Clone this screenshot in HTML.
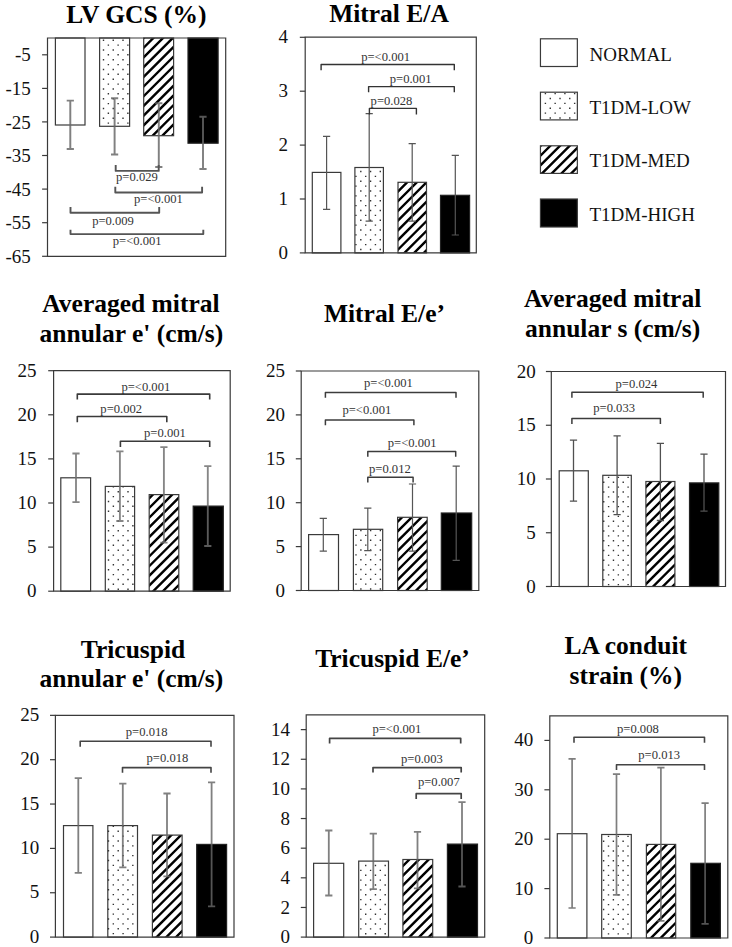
<!DOCTYPE html>
<html><head><meta charset="utf-8"><style>
html,body{margin:0;padding:0;background:#fff;}
svg{display:block;}
text{font-family:"Liberation Serif",serif;}
</style></head><body>
<svg width="732" height="947" viewBox="0 0 732 947">
<defs><clipPath id="c1"><rect x="143.7" y="38" width="29.9" height="97.7"/></clipPath><clipPath id="c2"><rect x="398" y="182.3" width="28.5" height="70.6"/></clipPath><clipPath id="c3"><rect x="149.2" y="494.6" width="29.6" height="96.6"/></clipPath><clipPath id="c4"><rect x="397.6" y="517.3" width="29.6" height="73.2"/></clipPath><clipPath id="c5"><rect x="645.9" y="481.5" width="29" height="105"/></clipPath><clipPath id="c6"><rect x="152.4" y="835.1" width="29.7" height="102"/></clipPath><clipPath id="c7"><rect x="402.9" y="859.5" width="29.8" height="77.6"/></clipPath><clipPath id="c8"><rect x="646.4" y="844.4" width="29.3" height="93.6"/></clipPath><clipPath id="c9"><rect x="540.45" y="145.8" width="36.9" height="27.6"/></clipPath></defs>
<rect width="732" height="947" fill="#fff"/>
<rect x="55.4" y="38" width="29.6" height="87" fill="#fff" stroke="none" stroke-width="0"/>
<rect x="55.4" y="38" width="29.6" height="87" fill="none" stroke="#3a3a3a" stroke-width="1.2"/>
<rect x="99.6" y="38" width="30" height="88.3" fill="#fff" stroke="none" stroke-width="0"/>
<path d="M102.8 39.5h1.4v1.4h-1.4zM112.55 39.5h1.4v1.4h-1.4zM122.3 39.5h1.4v1.4h-1.4zM107.67 44.38h1.4v1.4h-1.4zM117.42 44.38h1.4v1.4h-1.4zM127.17 44.38h1.4v1.4h-1.4zM102.8 49.25h1.4v1.4h-1.4zM112.55 49.25h1.4v1.4h-1.4zM122.3 49.25h1.4v1.4h-1.4zM107.67 54.12h1.4v1.4h-1.4zM117.42 54.12h1.4v1.4h-1.4zM127.17 54.12h1.4v1.4h-1.4zM102.8 59h1.4v1.4h-1.4zM112.55 59h1.4v1.4h-1.4zM122.3 59h1.4v1.4h-1.4zM107.67 63.88h1.4v1.4h-1.4zM117.42 63.88h1.4v1.4h-1.4zM127.17 63.88h1.4v1.4h-1.4zM102.8 68.75h1.4v1.4h-1.4zM112.55 68.75h1.4v1.4h-1.4zM122.3 68.75h1.4v1.4h-1.4zM107.67 73.62h1.4v1.4h-1.4zM117.42 73.62h1.4v1.4h-1.4zM127.17 73.62h1.4v1.4h-1.4zM102.8 78.5h1.4v1.4h-1.4zM112.55 78.5h1.4v1.4h-1.4zM122.3 78.5h1.4v1.4h-1.4zM107.67 83.38h1.4v1.4h-1.4zM117.42 83.38h1.4v1.4h-1.4zM127.17 83.38h1.4v1.4h-1.4zM102.8 88.25h1.4v1.4h-1.4zM112.55 88.25h1.4v1.4h-1.4zM122.3 88.25h1.4v1.4h-1.4zM107.67 93.12h1.4v1.4h-1.4zM117.42 93.12h1.4v1.4h-1.4zM127.17 93.12h1.4v1.4h-1.4zM102.8 98h1.4v1.4h-1.4zM112.55 98h1.4v1.4h-1.4zM122.3 98h1.4v1.4h-1.4zM107.67 102.88h1.4v1.4h-1.4zM117.42 102.88h1.4v1.4h-1.4zM127.17 102.88h1.4v1.4h-1.4zM102.8 107.75h1.4v1.4h-1.4zM112.55 107.75h1.4v1.4h-1.4zM122.3 107.75h1.4v1.4h-1.4zM107.67 112.62h1.4v1.4h-1.4zM117.42 112.62h1.4v1.4h-1.4zM127.17 112.62h1.4v1.4h-1.4zM102.8 117.5h1.4v1.4h-1.4zM112.55 117.5h1.4v1.4h-1.4zM122.3 117.5h1.4v1.4h-1.4zM107.67 122.38h1.4v1.4h-1.4zM117.42 122.38h1.4v1.4h-1.4zM127.17 122.38h1.4v1.4h-1.4z" fill="#333"/>
<rect x="99.6" y="38" width="30" height="88.3" fill="none" stroke="#3a3a3a" stroke-width="1.2"/>
<rect x="143.7" y="38" width="29.9" height="97.7" fill="#fff" stroke="none" stroke-width="0"/>
<path d="M145.95 26L24.25 147.7M155.65 26L33.95 147.7M165.35 26L43.65 147.7M175.05 26L53.35 147.7M184.75 26L63.05 147.7M194.45 26L72.75 147.7M204.15 26L82.45 147.7M213.85 26L92.15 147.7M223.55 26L101.85 147.7M233.25 26L111.55 147.7M242.95 26L121.25 147.7M252.65 26L130.95 147.7M262.35 26L140.65 147.7M272.05 26L150.35 147.7M281.75 26L160.05 147.7M291.45 26L169.75 147.7" stroke="#000" stroke-width="2.4" fill="none" clip-path="url(#c1)"/>
<rect x="143.7" y="38" width="29.9" height="97.7" fill="none" stroke="#3a3a3a" stroke-width="1.2"/>
<rect x="188" y="38" width="30.1" height="105.2" fill="#000" stroke="none" stroke-width="0"/>
<rect x="188" y="38" width="30.1" height="105.2" fill="none" stroke="#222" stroke-width="1.2"/>
<path d="M70.3 100.6V148.9M66.7 100.6H73.9M66.7 148.9H73.9" fill="none" stroke="#666" stroke-opacity="0.83" stroke-width="1.95"/>
<path d="M114.6 98.3V154.4M111 98.3H118.2M111 154.4H118.2" fill="none" stroke="#666" stroke-opacity="0.83" stroke-width="1.95"/>
<path d="M158.8 103.3V167M155.2 103.3H162.4M155.2 167H162.4" fill="none" stroke="#666" stroke-opacity="0.83" stroke-width="1.95"/>
<path d="M203 116.7V169M199.4 116.7H206.6M199.4 169H206.6" fill="none" stroke="#666" stroke-opacity="0.83" stroke-width="1.95"/>
<path d="M115.7 165.1L115.7 170.9L158.7 170.9L158.7 165.1" fill="none" stroke="#555" stroke-width="1.9" stroke-linejoin="round"/>
<text x="136.93" y="180.9" font-size="12.6" text-anchor="middle" fill="#333">p=0.029</text>
<path d="M115.3 186.7L115.3 192.5L202.1 192.5L202.1 186.7" fill="none" stroke="#555" stroke-width="1.9" stroke-linejoin="round"/>
<text x="158.43" y="203" font-size="12.6" text-anchor="middle" fill="#333">p=&lt;0.001</text>
<path d="M70.5 207.1L70.5 212.7L159.2 212.7L159.2 207.1" fill="none" stroke="#555" stroke-width="1.9" stroke-linejoin="round"/>
<text x="113.03" y="224.8" font-size="12.6" text-anchor="middle" fill="#333">p=0.009</text>
<path d="M70.5 229.7L70.5 234.1L203.3 234.1L203.3 229.7" fill="none" stroke="#555" stroke-width="1.9" stroke-linejoin="round"/>
<text x="137.23" y="245.2" font-size="12.6" text-anchor="middle" fill="#333">p=&lt;0.001</text>
<path d="M47.5 38L225.7 38L225.7 256.3L47.5 256.3Z" fill="none" stroke="#3a3a3a" stroke-width="1.2"/>
<line x1="42.1" y1="54.8" x2="47.5" y2="54.8" stroke="#3a3a3a" stroke-width="1.2"/>
<text x="30.75" y="61.45" font-size="19.0" text-anchor="end" fill="#111">-5</text>
<line x1="42.1" y1="88.4" x2="47.5" y2="88.4" stroke="#3a3a3a" stroke-width="1.2"/>
<text x="30.75" y="95.05" font-size="19.0" text-anchor="end" fill="#111">-15</text>
<line x1="42.1" y1="121.9" x2="47.5" y2="121.9" stroke="#3a3a3a" stroke-width="1.2"/>
<text x="30.75" y="128.55" font-size="19.0" text-anchor="end" fill="#111">-25</text>
<line x1="42.1" y1="155.5" x2="47.5" y2="155.5" stroke="#3a3a3a" stroke-width="1.2"/>
<text x="30.75" y="162.15" font-size="19.0" text-anchor="end" fill="#111">-35</text>
<line x1="42.1" y1="189.1" x2="47.5" y2="189.1" stroke="#3a3a3a" stroke-width="1.2"/>
<text x="30.75" y="195.75" font-size="19.0" text-anchor="end" fill="#111">-45</text>
<line x1="42.1" y1="222.7" x2="47.5" y2="222.7" stroke="#3a3a3a" stroke-width="1.2"/>
<text x="30.75" y="229.35" font-size="19.0" text-anchor="end" fill="#111">-55</text>
<line x1="42.1" y1="256.3" x2="47.5" y2="256.3" stroke="#3a3a3a" stroke-width="1.2"/>
<text x="30.75" y="262.95" font-size="19.0" text-anchor="end" fill="#111">-65</text>
<text x="136.42" y="23" font-size="25.5" font-weight="bold" text-anchor="middle" fill="#000">LV GCS (%)</text>
<rect x="312.3" y="172.4" width="28.6" height="80.5" fill="#fff" stroke="none" stroke-width="0"/>
<rect x="312.3" y="172.4" width="28.6" height="80.5" fill="none" stroke="#3a3a3a" stroke-width="1.2"/>
<rect x="354.9" y="167.5" width="28.5" height="85.4" fill="#fff" stroke="none" stroke-width="0"/>
<path d="M360.1 170.8h1.4v1.4h-1.4zM369.85 170.8h1.4v1.4h-1.4zM379.6 170.8h1.4v1.4h-1.4zM355.23 175.68h1.4v1.4h-1.4zM364.98 175.68h1.4v1.4h-1.4zM374.73 175.68h1.4v1.4h-1.4zM360.1 180.55h1.4v1.4h-1.4zM369.85 180.55h1.4v1.4h-1.4zM379.6 180.55h1.4v1.4h-1.4zM355.23 185.43h1.4v1.4h-1.4zM364.98 185.43h1.4v1.4h-1.4zM374.73 185.43h1.4v1.4h-1.4zM360.1 190.3h1.4v1.4h-1.4zM369.85 190.3h1.4v1.4h-1.4zM379.6 190.3h1.4v1.4h-1.4zM355.23 195.18h1.4v1.4h-1.4zM364.98 195.18h1.4v1.4h-1.4zM374.73 195.18h1.4v1.4h-1.4zM360.1 200.05h1.4v1.4h-1.4zM369.85 200.05h1.4v1.4h-1.4zM379.6 200.05h1.4v1.4h-1.4zM355.23 204.93h1.4v1.4h-1.4zM364.98 204.93h1.4v1.4h-1.4zM374.73 204.93h1.4v1.4h-1.4zM360.1 209.8h1.4v1.4h-1.4zM369.85 209.8h1.4v1.4h-1.4zM379.6 209.8h1.4v1.4h-1.4zM355.23 214.68h1.4v1.4h-1.4zM364.98 214.68h1.4v1.4h-1.4zM374.73 214.68h1.4v1.4h-1.4zM360.1 219.55h1.4v1.4h-1.4zM369.85 219.55h1.4v1.4h-1.4zM379.6 219.55h1.4v1.4h-1.4zM355.23 224.43h1.4v1.4h-1.4zM364.98 224.43h1.4v1.4h-1.4zM374.73 224.43h1.4v1.4h-1.4zM360.1 229.3h1.4v1.4h-1.4zM369.85 229.3h1.4v1.4h-1.4zM379.6 229.3h1.4v1.4h-1.4zM355.23 234.18h1.4v1.4h-1.4zM364.98 234.18h1.4v1.4h-1.4zM374.73 234.18h1.4v1.4h-1.4zM360.1 239.05h1.4v1.4h-1.4zM369.85 239.05h1.4v1.4h-1.4zM379.6 239.05h1.4v1.4h-1.4zM355.23 243.93h1.4v1.4h-1.4zM364.98 243.93h1.4v1.4h-1.4zM374.73 243.93h1.4v1.4h-1.4zM360.1 248.8h1.4v1.4h-1.4zM369.85 248.8h1.4v1.4h-1.4zM379.6 248.8h1.4v1.4h-1.4z" fill="#333"/>
<rect x="354.9" y="167.5" width="28.5" height="85.4" fill="none" stroke="#3a3a3a" stroke-width="1.2"/>
<rect x="398" y="182.3" width="28.5" height="70.6" fill="#fff" stroke="none" stroke-width="0"/>
<path d="M399.75 170.3L305.15 264.9M409.45 170.3L314.85 264.9M419.15 170.3L324.55 264.9M428.85 170.3L334.25 264.9M438.55 170.3L343.95 264.9M448.25 170.3L353.65 264.9M457.95 170.3L363.35 264.9M467.65 170.3L373.05 264.9M477.35 170.3L382.75 264.9M487.05 170.3L392.45 264.9M496.75 170.3L402.15 264.9M506.45 170.3L411.85 264.9M516.15 170.3L421.55 264.9" stroke="#000" stroke-width="2.4" fill="none" clip-path="url(#c2)"/>
<rect x="398" y="182.3" width="28.5" height="70.6" fill="none" stroke="#3a3a3a" stroke-width="1.2"/>
<rect x="440.5" y="195.3" width="29.1" height="57.6" fill="#000" stroke="none" stroke-width="0"/>
<rect x="440.5" y="195.3" width="29.1" height="57.6" fill="none" stroke="#222" stroke-width="1.2"/>
<path d="M326.6 136.4V209.3M323 136.4H330.2M323 209.3H330.2" fill="none" stroke="#555" stroke-width="1.2"/>
<path d="M369.2 113.6V221.2M365.6 113.6H372.8M365.6 221.2H372.8" fill="none" stroke="#555" stroke-width="1.2"/>
<path d="M412.2 143.6V221.2M408.6 143.6H415.8M408.6 221.2H415.8" fill="none" stroke="#555" stroke-width="1.2"/>
<path d="M455.3 155.3V235M451.7 155.3H458.9M451.7 235H458.9" fill="none" stroke="#555" stroke-width="1.2"/>
<path d="M321.1 70.2L321.1 64.5L454.3 64.5L454.3 70.2" fill="none" stroke="#333" stroke-width="1.4" stroke-linejoin="round"/>
<text x="385.63" y="61.1" font-size="12.6" text-anchor="middle" fill="#333">p=&lt;0.001</text>
<path d="M368.6 92.3L368.6 86.6L454.3 86.6L454.3 92.3" fill="none" stroke="#333" stroke-width="1.4" stroke-linejoin="round"/>
<text x="410.63" y="82.7" font-size="12.6" text-anchor="middle" fill="#333">p=0.001</text>
<path d="M369.4 114.4L369.4 108.4L416.4 108.4L416.4 114.4" fill="none" stroke="#333" stroke-width="1.4" stroke-linejoin="round"/>
<text x="391.48" y="104.5" font-size="12.6" text-anchor="middle" fill="#333">p=0.028</text>
<path d="M305.2 37.2L476.3 37.2L476.3 252.9L305.2 252.9Z" fill="none" stroke="#3a3a3a" stroke-width="1.2"/>
<line x1="299.8" y1="252.9" x2="305.2" y2="252.9" stroke="#3a3a3a" stroke-width="1.2"/>
<text x="287.9" y="258.95" font-size="19.0" text-anchor="end" fill="#111">0</text>
<line x1="299.8" y1="199" x2="305.2" y2="199" stroke="#3a3a3a" stroke-width="1.2"/>
<text x="287.9" y="205.05" font-size="19.0" text-anchor="end" fill="#111">1</text>
<line x1="299.8" y1="145.1" x2="305.2" y2="145.1" stroke="#3a3a3a" stroke-width="1.2"/>
<text x="287.9" y="151.15" font-size="19.0" text-anchor="end" fill="#111">2</text>
<line x1="299.8" y1="91.2" x2="305.2" y2="91.2" stroke="#3a3a3a" stroke-width="1.2"/>
<text x="287.9" y="97.25" font-size="19.0" text-anchor="end" fill="#111">3</text>
<line x1="299.8" y1="37.3" x2="305.2" y2="37.3" stroke="#3a3a3a" stroke-width="1.2"/>
<text x="287.9" y="43.35" font-size="19.0" text-anchor="end" fill="#111">4</text>
<text x="388.98" y="21.9" font-size="25.5" font-weight="bold" text-anchor="middle" fill="#000">Mitral E/A</text>
<rect x="60.8" y="477.8" width="29.8" height="113.4" fill="#fff" stroke="none" stroke-width="0"/>
<rect x="60.8" y="477.8" width="29.8" height="113.4" fill="none" stroke="#3a3a3a" stroke-width="1.2"/>
<rect x="105.3" y="486.4" width="29.3" height="104.8" fill="#fff" stroke="none" stroke-width="0"/>
<path d="M112.67 486.12h1.4v1.4h-1.4zM122.42 486.12h1.4v1.4h-1.4zM132.18 486.12h1.4v1.4h-1.4zM107.8 491h1.4v1.4h-1.4zM117.55 491h1.4v1.4h-1.4zM127.3 491h1.4v1.4h-1.4zM112.67 495.88h1.4v1.4h-1.4zM122.42 495.88h1.4v1.4h-1.4zM132.18 495.88h1.4v1.4h-1.4zM107.8 500.75h1.4v1.4h-1.4zM117.55 500.75h1.4v1.4h-1.4zM127.3 500.75h1.4v1.4h-1.4zM112.67 505.62h1.4v1.4h-1.4zM122.42 505.62h1.4v1.4h-1.4zM132.18 505.62h1.4v1.4h-1.4zM107.8 510.5h1.4v1.4h-1.4zM117.55 510.5h1.4v1.4h-1.4zM127.3 510.5h1.4v1.4h-1.4zM112.67 515.38h1.4v1.4h-1.4zM122.42 515.38h1.4v1.4h-1.4zM132.18 515.38h1.4v1.4h-1.4zM107.8 520.25h1.4v1.4h-1.4zM117.55 520.25h1.4v1.4h-1.4zM127.3 520.25h1.4v1.4h-1.4zM112.67 525.12h1.4v1.4h-1.4zM122.42 525.12h1.4v1.4h-1.4zM132.18 525.12h1.4v1.4h-1.4zM107.8 530h1.4v1.4h-1.4zM117.55 530h1.4v1.4h-1.4zM127.3 530h1.4v1.4h-1.4zM112.67 534.88h1.4v1.4h-1.4zM122.42 534.88h1.4v1.4h-1.4zM132.18 534.88h1.4v1.4h-1.4zM107.8 539.75h1.4v1.4h-1.4zM117.55 539.75h1.4v1.4h-1.4zM127.3 539.75h1.4v1.4h-1.4zM112.67 544.62h1.4v1.4h-1.4zM122.42 544.62h1.4v1.4h-1.4zM132.18 544.62h1.4v1.4h-1.4zM107.8 549.5h1.4v1.4h-1.4zM117.55 549.5h1.4v1.4h-1.4zM127.3 549.5h1.4v1.4h-1.4zM112.67 554.38h1.4v1.4h-1.4zM122.42 554.38h1.4v1.4h-1.4zM132.18 554.38h1.4v1.4h-1.4zM107.8 559.25h1.4v1.4h-1.4zM117.55 559.25h1.4v1.4h-1.4zM127.3 559.25h1.4v1.4h-1.4zM112.67 564.12h1.4v1.4h-1.4zM122.42 564.12h1.4v1.4h-1.4zM132.18 564.12h1.4v1.4h-1.4zM107.8 569h1.4v1.4h-1.4zM117.55 569h1.4v1.4h-1.4zM127.3 569h1.4v1.4h-1.4zM112.67 573.88h1.4v1.4h-1.4zM122.42 573.88h1.4v1.4h-1.4zM132.18 573.88h1.4v1.4h-1.4zM107.8 578.75h1.4v1.4h-1.4zM117.55 578.75h1.4v1.4h-1.4zM127.3 578.75h1.4v1.4h-1.4zM112.67 583.62h1.4v1.4h-1.4zM122.42 583.62h1.4v1.4h-1.4zM132.18 583.62h1.4v1.4h-1.4zM107.8 588.5h1.4v1.4h-1.4zM117.55 588.5h1.4v1.4h-1.4zM127.3 588.5h1.4v1.4h-1.4z" fill="#333"/>
<rect x="105.3" y="486.4" width="29.3" height="104.8" fill="none" stroke="#3a3a3a" stroke-width="1.2"/>
<rect x="149.2" y="494.6" width="29.6" height="96.6" fill="#fff" stroke="none" stroke-width="0"/>
<path d="M155.15 482.6L34.55 603.2M164.85 482.6L44.25 603.2M174.55 482.6L53.95 603.2M184.25 482.6L63.65 603.2M193.95 482.6L73.35 603.2M203.65 482.6L83.05 603.2M213.35 482.6L92.75 603.2M223.05 482.6L102.45 603.2M232.75 482.6L112.15 603.2M242.45 482.6L121.85 603.2M252.15 482.6L131.55 603.2M261.85 482.6L141.25 603.2M271.55 482.6L150.95 603.2M281.25 482.6L160.65 603.2M290.95 482.6L170.35 603.2M300.65 482.6L180.05 603.2" stroke="#000" stroke-width="2.4" fill="none" clip-path="url(#c3)"/>
<rect x="149.2" y="494.6" width="29.6" height="96.6" fill="none" stroke="#3a3a3a" stroke-width="1.2"/>
<rect x="193.2" y="506.1" width="30.1" height="85.1" fill="#000" stroke="none" stroke-width="0"/>
<rect x="193.2" y="506.1" width="30.1" height="85.1" fill="none" stroke="#222" stroke-width="1.2"/>
<path d="M76 453.5V502.1M72.4 453.5H79.6M72.4 502.1H79.6" fill="none" stroke="#6e6e6e" stroke-opacity="0.83" stroke-width="1.85"/>
<path d="M119.9 451.4V521M116.3 451.4H123.5M116.3 521H123.5" fill="none" stroke="#6e6e6e" stroke-opacity="0.83" stroke-width="1.85"/>
<path d="M163.9 447.1V542.6M160.3 447.1H167.5M160.3 542.6H167.5" fill="none" stroke="#6e6e6e" stroke-opacity="0.83" stroke-width="1.85"/>
<path d="M207.8 466.1V546M204.2 466.1H211.4M204.2 546H211.4" fill="none" stroke="#6e6e6e" stroke-opacity="0.83" stroke-width="1.85"/>
<path d="M77.3 399.4L77.3 394.1L209.7 394.1L209.7 399.4" fill="none" stroke="#3a3a3a" stroke-width="1.6" stroke-linejoin="round"/>
<text x="145.83" y="390.6" font-size="12.6" text-anchor="middle" fill="#333">p=&lt;0.001</text>
<path d="M77.3 422.3L77.3 416.5L166.8 416.5L166.8 422.3" fill="none" stroke="#3a3a3a" stroke-width="1.6" stroke-linejoin="round"/>
<text x="121.23" y="412.7" font-size="12.6" text-anchor="middle" fill="#333">p=0.002</text>
<path d="M120.4 447.1L120.4 441.2L209.7 441.2L209.7 447.1" fill="none" stroke="#3a3a3a" stroke-width="1.6" stroke-linejoin="round"/>
<text x="164.93" y="437.3" font-size="12.6" text-anchor="middle" fill="#333">p=0.001</text>
<path d="M53.6 370.7L230.2 370.7L230.2 591.2L53.6 591.2Z" fill="none" stroke="#3a3a3a" stroke-width="1.2"/>
<line x1="48.2" y1="591.2" x2="53.6" y2="591.2" stroke="#3a3a3a" stroke-width="1.2"/>
<text x="36.6" y="597.25" font-size="19.0" text-anchor="end" fill="#111">0</text>
<line x1="48.2" y1="547.1" x2="53.6" y2="547.1" stroke="#3a3a3a" stroke-width="1.2"/>
<text x="36.6" y="553.15" font-size="19.0" text-anchor="end" fill="#111">5</text>
<line x1="48.2" y1="503" x2="53.6" y2="503" stroke="#3a3a3a" stroke-width="1.2"/>
<text x="36.6" y="509.05" font-size="19.0" text-anchor="end" fill="#111">10</text>
<line x1="48.2" y1="458.9" x2="53.6" y2="458.9" stroke="#3a3a3a" stroke-width="1.2"/>
<text x="36.6" y="464.95" font-size="19.0" text-anchor="end" fill="#111">15</text>
<line x1="48.2" y1="414.8" x2="53.6" y2="414.8" stroke="#3a3a3a" stroke-width="1.2"/>
<text x="36.6" y="420.85" font-size="19.0" text-anchor="end" fill="#111">20</text>
<line x1="48.2" y1="370.7" x2="53.6" y2="370.7" stroke="#3a3a3a" stroke-width="1.2"/>
<text x="36.6" y="376.75" font-size="19.0" text-anchor="end" fill="#111">25</text>
<text x="130.95" y="312.3" font-size="25.5" font-weight="bold" text-anchor="middle" fill="#000">Averaged mitral</text>
<text x="131.37" y="342.4" font-size="25.5" font-weight="bold" text-anchor="middle" fill="#000">annular e' (cm/s)</text>
<rect x="308.6" y="534.6" width="29.9" height="55.9" fill="#fff" stroke="none" stroke-width="0"/>
<rect x="308.6" y="534.6" width="29.9" height="55.9" fill="none" stroke="#3a3a3a" stroke-width="1.2"/>
<rect x="353.4" y="529.3" width="29.3" height="61.2" fill="#fff" stroke="none" stroke-width="0"/>
<path d="M360.18 529.82h1.4v1.4h-1.4zM369.93 529.82h1.4v1.4h-1.4zM379.68 529.82h1.4v1.4h-1.4zM355.3 534.7h1.4v1.4h-1.4zM365.05 534.7h1.4v1.4h-1.4zM374.8 534.7h1.4v1.4h-1.4zM360.18 539.57h1.4v1.4h-1.4zM369.93 539.57h1.4v1.4h-1.4zM379.68 539.57h1.4v1.4h-1.4zM355.3 544.45h1.4v1.4h-1.4zM365.05 544.45h1.4v1.4h-1.4zM374.8 544.45h1.4v1.4h-1.4zM360.18 549.32h1.4v1.4h-1.4zM369.93 549.32h1.4v1.4h-1.4zM379.68 549.32h1.4v1.4h-1.4zM355.3 554.2h1.4v1.4h-1.4zM365.05 554.2h1.4v1.4h-1.4zM374.8 554.2h1.4v1.4h-1.4zM360.18 559.07h1.4v1.4h-1.4zM369.93 559.07h1.4v1.4h-1.4zM379.68 559.07h1.4v1.4h-1.4zM355.3 563.95h1.4v1.4h-1.4zM365.05 563.95h1.4v1.4h-1.4zM374.8 563.95h1.4v1.4h-1.4zM360.18 568.82h1.4v1.4h-1.4zM369.93 568.82h1.4v1.4h-1.4zM379.68 568.82h1.4v1.4h-1.4zM355.3 573.7h1.4v1.4h-1.4zM365.05 573.7h1.4v1.4h-1.4zM374.8 573.7h1.4v1.4h-1.4zM360.18 578.57h1.4v1.4h-1.4zM369.93 578.57h1.4v1.4h-1.4zM379.68 578.57h1.4v1.4h-1.4zM355.3 583.45h1.4v1.4h-1.4zM365.05 583.45h1.4v1.4h-1.4zM374.8 583.45h1.4v1.4h-1.4zM360.18 588.32h1.4v1.4h-1.4zM369.93 588.32h1.4v1.4h-1.4zM379.68 588.32h1.4v1.4h-1.4z" fill="#333"/>
<rect x="353.4" y="529.3" width="29.3" height="61.2" fill="none" stroke="#3a3a3a" stroke-width="1.2"/>
<rect x="397.6" y="517.3" width="29.6" height="73.2" fill="#fff" stroke="none" stroke-width="0"/>
<path d="M404.35 505.3L307.15 602.5M414.05 505.3L316.85 602.5M423.75 505.3L326.55 602.5M433.45 505.3L336.25 602.5M443.15 505.3L345.95 602.5M452.85 505.3L355.65 602.5M462.55 505.3L365.35 602.5M472.25 505.3L375.05 602.5M481.95 505.3L384.75 602.5M491.65 505.3L394.45 602.5M501.35 505.3L404.15 602.5M511.05 505.3L413.85 602.5M520.75 505.3L423.55 602.5" stroke="#000" stroke-width="2.4" fill="none" clip-path="url(#c4)"/>
<rect x="397.6" y="517.3" width="29.6" height="73.2" fill="none" stroke="#3a3a3a" stroke-width="1.2"/>
<rect x="441.3" y="513" width="30.4" height="77.5" fill="#000" stroke="none" stroke-width="0"/>
<rect x="441.3" y="513" width="30.4" height="77.5" fill="none" stroke="#222" stroke-width="1.2"/>
<path d="M323.3 518.3V551.1M319.7 518.3H326.9M319.7 551.1H326.9" fill="none" stroke="#555" stroke-width="1.2"/>
<path d="M367.8 508.2V550.6M364.2 508.2H371.4M364.2 550.6H371.4" fill="none" stroke="#555" stroke-width="1.2"/>
<path d="M412.5 484V551.1M408.9 484H416.1M408.9 551.1H416.1" fill="none" stroke="#555" stroke-width="1.2"/>
<path d="M456.2 466.2V560.4M452.6 466.2H459.8M452.6 560.4H459.8" fill="none" stroke="#555" stroke-width="1.2"/>
<path d="M325.4 397.8L325.4 392.5L456 392.5L456 397.8" fill="none" stroke="#3c3c3c" stroke-width="1.5" stroke-linejoin="round"/>
<text x="388.43" y="386.6" font-size="12.6" text-anchor="middle" fill="#333">p=&lt;0.001</text>
<path d="M325.4 425.3L325.4 419.9L413.9 419.9L413.9 425.3" fill="none" stroke="#3c3c3c" stroke-width="1.5" stroke-linejoin="round"/>
<text x="366.83" y="414.1" font-size="12.6" text-anchor="middle" fill="#333">p=&lt;0.001</text>
<path d="M367.8 456.7L367.8 451.4L455.7 451.4L455.7 456.7" fill="none" stroke="#3c3c3c" stroke-width="1.5" stroke-linejoin="round"/>
<text x="412.23" y="446.6" font-size="12.6" text-anchor="middle" fill="#333">p=&lt;0.001</text>
<path d="M367.8 482.6L367.8 477.3L413.1 477.3L413.1 482.6" fill="none" stroke="#3c3c3c" stroke-width="1.5" stroke-linejoin="round"/>
<text x="389.88" y="472.7" font-size="12.6" text-anchor="middle" fill="#333">p=0.012</text>
<path d="M301.2 371L478.8 371L478.8 590.5L301.2 590.5Z" fill="none" stroke="#3a3a3a" stroke-width="1.2"/>
<line x1="295.8" y1="590.5" x2="301.2" y2="590.5" stroke="#3a3a3a" stroke-width="1.2"/>
<text x="284.9" y="596.55" font-size="19.0" text-anchor="end" fill="#111">0</text>
<line x1="295.8" y1="546.6" x2="301.2" y2="546.6" stroke="#3a3a3a" stroke-width="1.2"/>
<text x="284.9" y="552.65" font-size="19.0" text-anchor="end" fill="#111">5</text>
<line x1="295.8" y1="502.7" x2="301.2" y2="502.7" stroke="#3a3a3a" stroke-width="1.2"/>
<text x="284.9" y="508.75" font-size="19.0" text-anchor="end" fill="#111">10</text>
<line x1="295.8" y1="458.8" x2="301.2" y2="458.8" stroke="#3a3a3a" stroke-width="1.2"/>
<text x="284.9" y="464.85" font-size="19.0" text-anchor="end" fill="#111">15</text>
<line x1="295.8" y1="414.9" x2="301.2" y2="414.9" stroke="#3a3a3a" stroke-width="1.2"/>
<text x="284.9" y="420.95" font-size="19.0" text-anchor="end" fill="#111">20</text>
<line x1="295.8" y1="371" x2="301.2" y2="371" stroke="#3a3a3a" stroke-width="1.2"/>
<text x="284.9" y="377.05" font-size="19.0" text-anchor="end" fill="#111">25</text>
<text x="384.47" y="322" font-size="25.5" font-weight="bold" text-anchor="middle" fill="#000">Mitral E/e’</text>
<rect x="559.2" y="470.8" width="29.1" height="115.7" fill="#fff" stroke="none" stroke-width="0"/>
<rect x="559.2" y="470.8" width="29.1" height="115.7" fill="none" stroke="#3a3a3a" stroke-width="1.2"/>
<rect x="602.8" y="475.3" width="28.5" height="111.2" fill="#fff" stroke="none" stroke-width="0"/>
<path d="M607.9 476.7h1.4v1.4h-1.4zM617.65 476.7h1.4v1.4h-1.4zM627.4 476.7h1.4v1.4h-1.4zM603.02 481.57h1.4v1.4h-1.4zM612.77 481.57h1.4v1.4h-1.4zM622.52 481.57h1.4v1.4h-1.4zM607.9 486.45h1.4v1.4h-1.4zM617.65 486.45h1.4v1.4h-1.4zM627.4 486.45h1.4v1.4h-1.4zM603.02 491.32h1.4v1.4h-1.4zM612.77 491.32h1.4v1.4h-1.4zM622.52 491.32h1.4v1.4h-1.4zM607.9 496.2h1.4v1.4h-1.4zM617.65 496.2h1.4v1.4h-1.4zM627.4 496.2h1.4v1.4h-1.4zM603.02 501.07h1.4v1.4h-1.4zM612.77 501.07h1.4v1.4h-1.4zM622.52 501.07h1.4v1.4h-1.4zM607.9 505.95h1.4v1.4h-1.4zM617.65 505.95h1.4v1.4h-1.4zM627.4 505.95h1.4v1.4h-1.4zM603.02 510.82h1.4v1.4h-1.4zM612.77 510.82h1.4v1.4h-1.4zM622.52 510.82h1.4v1.4h-1.4zM607.9 515.7h1.4v1.4h-1.4zM617.65 515.7h1.4v1.4h-1.4zM627.4 515.7h1.4v1.4h-1.4zM603.02 520.57h1.4v1.4h-1.4zM612.77 520.57h1.4v1.4h-1.4zM622.52 520.57h1.4v1.4h-1.4zM607.9 525.45h1.4v1.4h-1.4zM617.65 525.45h1.4v1.4h-1.4zM627.4 525.45h1.4v1.4h-1.4zM603.02 530.32h1.4v1.4h-1.4zM612.77 530.32h1.4v1.4h-1.4zM622.52 530.32h1.4v1.4h-1.4zM607.9 535.2h1.4v1.4h-1.4zM617.65 535.2h1.4v1.4h-1.4zM627.4 535.2h1.4v1.4h-1.4zM603.02 540.07h1.4v1.4h-1.4zM612.77 540.07h1.4v1.4h-1.4zM622.52 540.07h1.4v1.4h-1.4zM607.9 544.95h1.4v1.4h-1.4zM617.65 544.95h1.4v1.4h-1.4zM627.4 544.95h1.4v1.4h-1.4zM603.02 549.82h1.4v1.4h-1.4zM612.77 549.82h1.4v1.4h-1.4zM622.52 549.82h1.4v1.4h-1.4zM607.9 554.7h1.4v1.4h-1.4zM617.65 554.7h1.4v1.4h-1.4zM627.4 554.7h1.4v1.4h-1.4zM603.02 559.57h1.4v1.4h-1.4zM612.77 559.57h1.4v1.4h-1.4zM622.52 559.57h1.4v1.4h-1.4zM607.9 564.45h1.4v1.4h-1.4zM617.65 564.45h1.4v1.4h-1.4zM627.4 564.45h1.4v1.4h-1.4zM603.02 569.32h1.4v1.4h-1.4zM612.77 569.32h1.4v1.4h-1.4zM622.52 569.32h1.4v1.4h-1.4zM607.9 574.2h1.4v1.4h-1.4zM617.65 574.2h1.4v1.4h-1.4zM627.4 574.2h1.4v1.4h-1.4zM603.02 579.07h1.4v1.4h-1.4zM612.77 579.07h1.4v1.4h-1.4zM622.52 579.07h1.4v1.4h-1.4zM607.9 583.95h1.4v1.4h-1.4zM617.65 583.95h1.4v1.4h-1.4zM627.4 583.95h1.4v1.4h-1.4z" fill="#333"/>
<rect x="602.8" y="475.3" width="28.5" height="111.2" fill="none" stroke="#3a3a3a" stroke-width="1.2"/>
<rect x="645.9" y="481.5" width="29" height="105" fill="#fff" stroke="none" stroke-width="0"/>
<path d="M644.05 469.5L515.05 598.5M653.75 469.5L524.75 598.5M663.45 469.5L534.45 598.5M673.15 469.5L544.15 598.5M682.85 469.5L553.85 598.5M692.55 469.5L563.55 598.5M702.25 469.5L573.25 598.5M711.95 469.5L582.95 598.5M721.65 469.5L592.65 598.5M731.35 469.5L602.35 598.5M741.05 469.5L612.05 598.5M750.75 469.5L621.75 598.5M760.45 469.5L631.45 598.5M770.15 469.5L641.15 598.5M779.85 469.5L650.85 598.5M789.55 469.5L660.55 598.5M799.25 469.5L670.25 598.5" stroke="#000" stroke-width="2.4" fill="none" clip-path="url(#c5)"/>
<rect x="645.9" y="481.5" width="29" height="105" fill="none" stroke="#3a3a3a" stroke-width="1.2"/>
<rect x="689.5" y="482.9" width="29.3" height="103.6" fill="#000" stroke="none" stroke-width="0"/>
<rect x="689.5" y="482.9" width="29.3" height="103.6" fill="none" stroke="#222" stroke-width="1.2"/>
<path d="M573.5 440.2V501.2M569.9 440.2H577.1M569.9 501.2H577.1" fill="none" stroke="#505050" stroke-width="1.3"/>
<path d="M617.1 435.9V514.6M613.5 435.9H620.7M613.5 514.6H620.7" fill="none" stroke="#505050" stroke-width="1.3"/>
<path d="M660.4 443.4V520.5M656.8 443.4H664M656.8 520.5H664" fill="none" stroke="#505050" stroke-width="1.3"/>
<path d="M704 454.2V511.1M700.4 454.2H707.6M700.4 511.1H707.6" fill="none" stroke="#505050" stroke-width="1.3"/>
<path d="M571.9 397.7L571.9 392.3L703.2 392.3L703.2 397.7" fill="none" stroke="#3c3c3c" stroke-width="1.5" stroke-linejoin="round"/>
<text x="636.43" y="387.7" font-size="12.6" text-anchor="middle" fill="#333">p=0.024</text>
<path d="M571.9 424L571.9 418.4L660.4 418.4L660.4 424" fill="none" stroke="#3c3c3c" stroke-width="1.5" stroke-linejoin="round"/>
<text x="614.13" y="411.9" font-size="12.6" text-anchor="middle" fill="#333">p=0.033</text>
<path d="M551.3 371.5L725.5 371.5L725.5 586.5L551.3 586.5Z" fill="none" stroke="#3a3a3a" stroke-width="1.2"/>
<line x1="545.9" y1="586.5" x2="551.3" y2="586.5" stroke="#3a3a3a" stroke-width="1.2"/>
<text x="535.8" y="592.55" font-size="19.0" text-anchor="end" fill="#111">0</text>
<line x1="545.9" y1="532.75" x2="551.3" y2="532.75" stroke="#3a3a3a" stroke-width="1.2"/>
<text x="535.8" y="538.8" font-size="19.0" text-anchor="end" fill="#111">5</text>
<line x1="545.9" y1="479" x2="551.3" y2="479" stroke="#3a3a3a" stroke-width="1.2"/>
<text x="535.8" y="485.05" font-size="19.0" text-anchor="end" fill="#111">10</text>
<line x1="545.9" y1="425.25" x2="551.3" y2="425.25" stroke="#3a3a3a" stroke-width="1.2"/>
<text x="535.8" y="431.3" font-size="19.0" text-anchor="end" fill="#111">15</text>
<line x1="545.9" y1="371.5" x2="551.3" y2="371.5" stroke="#3a3a3a" stroke-width="1.2"/>
<text x="535.8" y="377.55" font-size="19.0" text-anchor="end" fill="#111">20</text>
<text x="612.65" y="307.1" font-size="25.5" font-weight="bold" text-anchor="middle" fill="#000">Averaged mitral</text>
<text x="612.68" y="336.6" font-size="25.5" font-weight="bold" text-anchor="middle" fill="#000">annular s (cm/s)</text>
<rect x="63.5" y="825.6" width="29.4" height="111.5" fill="#fff" stroke="none" stroke-width="0"/>
<rect x="63.5" y="825.6" width="29.4" height="111.5" fill="none" stroke="#3a3a3a" stroke-width="1.2"/>
<rect x="107.8" y="825.6" width="29.7" height="111.5" fill="#fff" stroke="none" stroke-width="0"/>
<path d="M112.62 825.72h1.4v1.4h-1.4zM122.38 825.72h1.4v1.4h-1.4zM132.12 825.72h1.4v1.4h-1.4zM107.75 830.6h1.4v1.4h-1.4zM117.5 830.6h1.4v1.4h-1.4zM127.25 830.6h1.4v1.4h-1.4zM112.62 835.47h1.4v1.4h-1.4zM122.38 835.47h1.4v1.4h-1.4zM132.12 835.47h1.4v1.4h-1.4zM107.75 840.35h1.4v1.4h-1.4zM117.5 840.35h1.4v1.4h-1.4zM127.25 840.35h1.4v1.4h-1.4zM112.62 845.22h1.4v1.4h-1.4zM122.38 845.22h1.4v1.4h-1.4zM132.12 845.22h1.4v1.4h-1.4zM107.75 850.1h1.4v1.4h-1.4zM117.5 850.1h1.4v1.4h-1.4zM127.25 850.1h1.4v1.4h-1.4zM112.62 854.97h1.4v1.4h-1.4zM122.38 854.97h1.4v1.4h-1.4zM132.12 854.97h1.4v1.4h-1.4zM107.75 859.85h1.4v1.4h-1.4zM117.5 859.85h1.4v1.4h-1.4zM127.25 859.85h1.4v1.4h-1.4zM112.62 864.72h1.4v1.4h-1.4zM122.38 864.72h1.4v1.4h-1.4zM132.12 864.72h1.4v1.4h-1.4zM107.75 869.6h1.4v1.4h-1.4zM117.5 869.6h1.4v1.4h-1.4zM127.25 869.6h1.4v1.4h-1.4zM112.62 874.47h1.4v1.4h-1.4zM122.38 874.47h1.4v1.4h-1.4zM132.12 874.47h1.4v1.4h-1.4zM107.75 879.35h1.4v1.4h-1.4zM117.5 879.35h1.4v1.4h-1.4zM127.25 879.35h1.4v1.4h-1.4zM112.62 884.22h1.4v1.4h-1.4zM122.38 884.22h1.4v1.4h-1.4zM132.12 884.22h1.4v1.4h-1.4zM107.75 889.1h1.4v1.4h-1.4zM117.5 889.1h1.4v1.4h-1.4zM127.25 889.1h1.4v1.4h-1.4zM112.62 893.97h1.4v1.4h-1.4zM122.38 893.97h1.4v1.4h-1.4zM132.12 893.97h1.4v1.4h-1.4zM107.75 898.85h1.4v1.4h-1.4zM117.5 898.85h1.4v1.4h-1.4zM127.25 898.85h1.4v1.4h-1.4zM112.62 903.72h1.4v1.4h-1.4zM122.38 903.72h1.4v1.4h-1.4zM132.12 903.72h1.4v1.4h-1.4zM107.75 908.6h1.4v1.4h-1.4zM117.5 908.6h1.4v1.4h-1.4zM127.25 908.6h1.4v1.4h-1.4zM112.62 913.47h1.4v1.4h-1.4zM122.38 913.47h1.4v1.4h-1.4zM132.12 913.47h1.4v1.4h-1.4zM107.75 918.35h1.4v1.4h-1.4zM117.5 918.35h1.4v1.4h-1.4zM127.25 918.35h1.4v1.4h-1.4zM112.62 923.22h1.4v1.4h-1.4zM122.38 923.22h1.4v1.4h-1.4zM132.12 923.22h1.4v1.4h-1.4zM107.75 928.1h1.4v1.4h-1.4zM117.5 928.1h1.4v1.4h-1.4zM127.25 928.1h1.4v1.4h-1.4zM112.62 932.97h1.4v1.4h-1.4zM122.38 932.97h1.4v1.4h-1.4zM132.12 932.97h1.4v1.4h-1.4z" fill="#333"/>
<rect x="107.8" y="825.6" width="29.7" height="111.5" fill="none" stroke="#3a3a3a" stroke-width="1.2"/>
<rect x="152.4" y="835.1" width="29.7" height="102" fill="#fff" stroke="none" stroke-width="0"/>
<path d="M154.25 823.1L28.25 949.1M163.95 823.1L37.95 949.1M173.65 823.1L47.65 949.1M183.35 823.1L57.35 949.1M193.05 823.1L67.05 949.1M202.75 823.1L76.75 949.1M212.45 823.1L86.45 949.1M222.15 823.1L96.15 949.1M231.85 823.1L105.85 949.1M241.55 823.1L115.55 949.1M251.25 823.1L125.25 949.1M260.95 823.1L134.95 949.1M270.65 823.1L144.65 949.1M280.35 823.1L154.35 949.1M290.05 823.1L164.05 949.1M299.75 823.1L173.75 949.1M309.45 823.1L183.45 949.1" stroke="#000" stroke-width="2.4" fill="none" clip-path="url(#c6)"/>
<rect x="152.4" y="835.1" width="29.7" height="102" fill="none" stroke="#3a3a3a" stroke-width="1.2"/>
<rect x="196.7" y="844.4" width="29.9" height="92.7" fill="#000" stroke="none" stroke-width="0"/>
<rect x="196.7" y="844.4" width="29.9" height="92.7" fill="none" stroke="#222" stroke-width="1.2"/>
<path d="M78.3 778.2V872.8M74.7 778.2H81.9M74.7 872.8H81.9" fill="none" stroke="#666" stroke-opacity="0.83" stroke-width="1.8"/>
<path d="M122.8 783.7V867.4M119.2 783.7H126.4M119.2 867.4H126.4" fill="none" stroke="#666" stroke-opacity="0.83" stroke-width="1.8"/>
<path d="M167 793.5V876.4M163.4 793.5H170.6M163.4 876.4H170.6" fill="none" stroke="#666" stroke-opacity="0.83" stroke-width="1.8"/>
<path d="M211.6 782.3V906.4M208 782.3H215.2M208 906.4H215.2" fill="none" stroke="#666" stroke-opacity="0.83" stroke-width="1.8"/>
<path d="M80.2 746.8L80.2 741.3L211 741.3L211 746.8" fill="none" stroke="#444" stroke-width="1.6" stroke-linejoin="round"/>
<text x="146.68" y="735.9" font-size="12.6" text-anchor="middle" fill="#333">p=0.018</text>
<path d="M122.5 772.8L122.5 767.6L211 767.6L211 772.8" fill="none" stroke="#444" stroke-width="1.6" stroke-linejoin="round"/>
<text x="167.43" y="761.6" font-size="12.6" text-anchor="middle" fill="#333">p=0.018</text>
<path d="M55.4 715.3L234 715.3L234 937.1L55.4 937.1Z" fill="none" stroke="#3a3a3a" stroke-width="1.2"/>
<line x1="50" y1="937.1" x2="55.4" y2="937.1" stroke="#3a3a3a" stroke-width="1.2"/>
<text x="39.2" y="942.55" font-size="19.0" text-anchor="end" fill="#111">0</text>
<line x1="50" y1="892.75" x2="55.4" y2="892.75" stroke="#3a3a3a" stroke-width="1.2"/>
<text x="39.2" y="898.2" font-size="19.0" text-anchor="end" fill="#111">5</text>
<line x1="50" y1="848.4" x2="55.4" y2="848.4" stroke="#3a3a3a" stroke-width="1.2"/>
<text x="39.2" y="853.85" font-size="19.0" text-anchor="end" fill="#111">10</text>
<line x1="50" y1="804.05" x2="55.4" y2="804.05" stroke="#3a3a3a" stroke-width="1.2"/>
<text x="39.2" y="809.5" font-size="19.0" text-anchor="end" fill="#111">15</text>
<line x1="50" y1="759.7" x2="55.4" y2="759.7" stroke="#3a3a3a" stroke-width="1.2"/>
<text x="39.2" y="765.15" font-size="19.0" text-anchor="end" fill="#111">20</text>
<line x1="50" y1="715.35" x2="55.4" y2="715.35" stroke="#3a3a3a" stroke-width="1.2"/>
<text x="39.2" y="720.8" font-size="19.0" text-anchor="end" fill="#111">25</text>
<text x="133.01" y="657.8" font-size="25.5" font-weight="bold" text-anchor="middle" fill="#000">Tricuspid</text>
<text x="131.37" y="687.4" font-size="25.5" font-weight="bold" text-anchor="middle" fill="#000">annular e' (cm/s)</text>
<rect x="313.6" y="863.3" width="30.1" height="73.8" fill="#fff" stroke="none" stroke-width="0"/>
<rect x="313.6" y="863.3" width="30.1" height="73.8" fill="none" stroke="#3a3a3a" stroke-width="1.2"/>
<rect x="358.7" y="861.1" width="29.8" height="76" fill="#fff" stroke="none" stroke-width="0"/>
<path d="M365 864.8h1.4v1.4h-1.4zM374.75 864.8h1.4v1.4h-1.4zM384.5 864.8h1.4v1.4h-1.4zM360.12 869.67h1.4v1.4h-1.4zM369.88 869.67h1.4v1.4h-1.4zM379.62 869.67h1.4v1.4h-1.4zM365 874.55h1.4v1.4h-1.4zM374.75 874.55h1.4v1.4h-1.4zM384.5 874.55h1.4v1.4h-1.4zM360.12 879.42h1.4v1.4h-1.4zM369.88 879.42h1.4v1.4h-1.4zM379.62 879.42h1.4v1.4h-1.4zM365 884.3h1.4v1.4h-1.4zM374.75 884.3h1.4v1.4h-1.4zM384.5 884.3h1.4v1.4h-1.4zM360.12 889.17h1.4v1.4h-1.4zM369.88 889.17h1.4v1.4h-1.4zM379.62 889.17h1.4v1.4h-1.4zM365 894.05h1.4v1.4h-1.4zM374.75 894.05h1.4v1.4h-1.4zM384.5 894.05h1.4v1.4h-1.4zM360.12 898.92h1.4v1.4h-1.4zM369.88 898.92h1.4v1.4h-1.4zM379.62 898.92h1.4v1.4h-1.4zM365 903.8h1.4v1.4h-1.4zM374.75 903.8h1.4v1.4h-1.4zM384.5 903.8h1.4v1.4h-1.4zM360.12 908.67h1.4v1.4h-1.4zM369.88 908.67h1.4v1.4h-1.4zM379.62 908.67h1.4v1.4h-1.4zM365 913.55h1.4v1.4h-1.4zM374.75 913.55h1.4v1.4h-1.4zM384.5 913.55h1.4v1.4h-1.4zM360.12 918.42h1.4v1.4h-1.4zM369.88 918.42h1.4v1.4h-1.4zM379.62 918.42h1.4v1.4h-1.4zM365 923.3h1.4v1.4h-1.4zM374.75 923.3h1.4v1.4h-1.4zM384.5 923.3h1.4v1.4h-1.4zM360.12 928.17h1.4v1.4h-1.4zM369.88 928.17h1.4v1.4h-1.4zM379.62 928.17h1.4v1.4h-1.4zM365 933.05h1.4v1.4h-1.4zM374.75 933.05h1.4v1.4h-1.4zM384.5 933.05h1.4v1.4h-1.4z" fill="#333"/>
<rect x="358.7" y="861.1" width="29.8" height="76" fill="none" stroke="#3a3a3a" stroke-width="1.2"/>
<rect x="402.9" y="859.5" width="29.8" height="77.6" fill="#fff" stroke="none" stroke-width="0"/>
<path d="M401.95 847.5L300.35 949.1M411.65 847.5L310.05 949.1M421.35 847.5L319.75 949.1M431.05 847.5L329.45 949.1M440.75 847.5L339.15 949.1M450.45 847.5L348.85 949.1M460.15 847.5L358.55 949.1M469.85 847.5L368.25 949.1M479.55 847.5L377.95 949.1M489.25 847.5L387.65 949.1M498.95 847.5L397.35 949.1M508.65 847.5L407.05 949.1M518.35 847.5L416.75 949.1M528.05 847.5L426.45 949.1" stroke="#000" stroke-width="2.4" fill="none" clip-path="url(#c7)"/>
<rect x="402.9" y="859.5" width="29.8" height="77.6" fill="none" stroke="#3a3a3a" stroke-width="1.2"/>
<rect x="447.4" y="844.1" width="30.1" height="93" fill="#000" stroke="none" stroke-width="0"/>
<rect x="447.4" y="844.1" width="30.1" height="93" fill="none" stroke="#222" stroke-width="1.2"/>
<path d="M328.8 830.5V895.5M325.2 830.5H332.4M325.2 895.5H332.4" fill="none" stroke="#666" stroke-opacity="0.83" stroke-width="1.8"/>
<path d="M373.3 833.7V889.1M369.7 833.7H376.9M369.7 889.1H376.9" fill="none" stroke="#666" stroke-opacity="0.83" stroke-width="1.8"/>
<path d="M417.5 831.8V888.3M413.9 831.8H421.1M413.9 888.3H421.1" fill="none" stroke="#666" stroke-opacity="0.83" stroke-width="1.8"/>
<path d="M462 802.2V886.5M458.4 802.2H465.6M458.4 886.5H465.6" fill="none" stroke="#666" stroke-opacity="0.83" stroke-width="1.8"/>
<path d="M329.6 743.6L329.6 738.3L460.7 738.3L460.7 743.6" fill="none" stroke="#444" stroke-width="1.7" stroke-linejoin="round"/>
<text x="396.88" y="733" font-size="12.6" text-anchor="middle" fill="#333">p=&lt;0.001</text>
<path d="M373 772.4L373 767.6L461.2 767.6L461.2 772.4" fill="none" stroke="#444" stroke-width="1.7" stroke-linejoin="round"/>
<text x="421.88" y="763.1" font-size="12.6" text-anchor="middle" fill="#333">p=0.003</text>
<path d="M416.2 799L416.2 793.7L461.2 793.7L461.2 799" fill="none" stroke="#444" stroke-width="1.7" stroke-linejoin="round"/>
<text x="438.83" y="786.2" font-size="12.6" text-anchor="middle" fill="#333">p=0.007</text>
<path d="M306.2 714.8L484.7 714.8L484.7 937.1L306.2 937.1Z" fill="none" stroke="#3a3a3a" stroke-width="1.2"/>
<line x1="300.8" y1="937.1" x2="306.2" y2="937.1" stroke="#3a3a3a" stroke-width="1.2"/>
<text x="290.1" y="943.15" font-size="19.0" text-anchor="end" fill="#111">0</text>
<line x1="300.8" y1="907.46" x2="306.2" y2="907.46" stroke="#3a3a3a" stroke-width="1.2"/>
<text x="290.1" y="913.51" font-size="19.0" text-anchor="end" fill="#111">2</text>
<line x1="300.8" y1="877.82" x2="306.2" y2="877.82" stroke="#3a3a3a" stroke-width="1.2"/>
<text x="290.1" y="883.87" font-size="19.0" text-anchor="end" fill="#111">4</text>
<line x1="300.8" y1="848.18" x2="306.2" y2="848.18" stroke="#3a3a3a" stroke-width="1.2"/>
<text x="290.1" y="854.23" font-size="19.0" text-anchor="end" fill="#111">6</text>
<line x1="300.8" y1="818.54" x2="306.2" y2="818.54" stroke="#3a3a3a" stroke-width="1.2"/>
<text x="290.1" y="824.59" font-size="19.0" text-anchor="end" fill="#111">8</text>
<line x1="300.8" y1="788.9" x2="306.2" y2="788.9" stroke="#3a3a3a" stroke-width="1.2"/>
<text x="290.1" y="794.95" font-size="19.0" text-anchor="end" fill="#111">10</text>
<line x1="300.8" y1="759.26" x2="306.2" y2="759.26" stroke="#3a3a3a" stroke-width="1.2"/>
<text x="290.1" y="765.31" font-size="19.0" text-anchor="end" fill="#111">12</text>
<line x1="300.8" y1="729.62" x2="306.2" y2="729.62" stroke="#3a3a3a" stroke-width="1.2"/>
<text x="290.1" y="735.67" font-size="19.0" text-anchor="end" fill="#111">14</text>
<text x="392.47" y="667" font-size="25.5" font-weight="bold" text-anchor="middle" fill="#000">Tricuspid E/e’</text>
<rect x="557.3" y="833.7" width="29.6" height="104.3" fill="#fff" stroke="none" stroke-width="0"/>
<rect x="557.3" y="833.7" width="29.6" height="104.3" fill="none" stroke="#3a3a3a" stroke-width="1.2"/>
<rect x="601.7" y="834.5" width="29.6" height="103.5" fill="#fff" stroke="none" stroke-width="0"/>
<path d="M607.8 835.7h1.4v1.4h-1.4zM617.55 835.7h1.4v1.4h-1.4zM627.3 835.7h1.4v1.4h-1.4zM602.92 840.57h1.4v1.4h-1.4zM612.67 840.57h1.4v1.4h-1.4zM622.42 840.57h1.4v1.4h-1.4zM607.8 845.45h1.4v1.4h-1.4zM617.55 845.45h1.4v1.4h-1.4zM627.3 845.45h1.4v1.4h-1.4zM602.92 850.32h1.4v1.4h-1.4zM612.67 850.32h1.4v1.4h-1.4zM622.42 850.32h1.4v1.4h-1.4zM607.8 855.2h1.4v1.4h-1.4zM617.55 855.2h1.4v1.4h-1.4zM627.3 855.2h1.4v1.4h-1.4zM602.92 860.07h1.4v1.4h-1.4zM612.67 860.07h1.4v1.4h-1.4zM622.42 860.07h1.4v1.4h-1.4zM607.8 864.95h1.4v1.4h-1.4zM617.55 864.95h1.4v1.4h-1.4zM627.3 864.95h1.4v1.4h-1.4zM602.92 869.82h1.4v1.4h-1.4zM612.67 869.82h1.4v1.4h-1.4zM622.42 869.82h1.4v1.4h-1.4zM607.8 874.7h1.4v1.4h-1.4zM617.55 874.7h1.4v1.4h-1.4zM627.3 874.7h1.4v1.4h-1.4zM602.92 879.57h1.4v1.4h-1.4zM612.67 879.57h1.4v1.4h-1.4zM622.42 879.57h1.4v1.4h-1.4zM607.8 884.45h1.4v1.4h-1.4zM617.55 884.45h1.4v1.4h-1.4zM627.3 884.45h1.4v1.4h-1.4zM602.92 889.32h1.4v1.4h-1.4zM612.67 889.32h1.4v1.4h-1.4zM622.42 889.32h1.4v1.4h-1.4zM607.8 894.2h1.4v1.4h-1.4zM617.55 894.2h1.4v1.4h-1.4zM627.3 894.2h1.4v1.4h-1.4zM602.92 899.07h1.4v1.4h-1.4zM612.67 899.07h1.4v1.4h-1.4zM622.42 899.07h1.4v1.4h-1.4zM607.8 903.95h1.4v1.4h-1.4zM617.55 903.95h1.4v1.4h-1.4zM627.3 903.95h1.4v1.4h-1.4zM602.92 908.82h1.4v1.4h-1.4zM612.67 908.82h1.4v1.4h-1.4zM622.42 908.82h1.4v1.4h-1.4zM607.8 913.7h1.4v1.4h-1.4zM617.55 913.7h1.4v1.4h-1.4zM627.3 913.7h1.4v1.4h-1.4zM602.92 918.57h1.4v1.4h-1.4zM612.67 918.57h1.4v1.4h-1.4zM622.42 918.57h1.4v1.4h-1.4zM607.8 923.45h1.4v1.4h-1.4zM617.55 923.45h1.4v1.4h-1.4zM627.3 923.45h1.4v1.4h-1.4zM602.92 928.32h1.4v1.4h-1.4zM612.67 928.32h1.4v1.4h-1.4zM622.42 928.32h1.4v1.4h-1.4zM607.8 933.2h1.4v1.4h-1.4zM617.55 933.2h1.4v1.4h-1.4zM627.3 933.2h1.4v1.4h-1.4z" fill="#333"/>
<rect x="601.7" y="834.5" width="29.6" height="103.5" fill="none" stroke="#3a3a3a" stroke-width="1.2"/>
<rect x="646.4" y="844.4" width="29.3" height="93.6" fill="#fff" stroke="none" stroke-width="0"/>
<path d="M649.85 832.4L532.25 950M659.55 832.4L541.95 950M669.25 832.4L551.65 950M678.95 832.4L561.35 950M688.65 832.4L571.05 950M698.35 832.4L580.75 950M708.05 832.4L590.45 950M717.75 832.4L600.15 950M727.45 832.4L609.85 950M737.15 832.4L619.55 950M746.85 832.4L629.25 950M756.55 832.4L638.95 950M766.25 832.4L648.65 950M775.95 832.4L658.35 950M785.65 832.4L668.05 950M795.35 832.4L677.75 950" stroke="#000" stroke-width="2.4" fill="none" clip-path="url(#c8)"/>
<rect x="646.4" y="844.4" width="29.3" height="93.6" fill="none" stroke="#3a3a3a" stroke-width="1.2"/>
<rect x="690.8" y="863.3" width="29.6" height="74.7" fill="#000" stroke="none" stroke-width="0"/>
<rect x="690.8" y="863.3" width="29.6" height="74.7" fill="none" stroke="#222" stroke-width="1.2"/>
<path d="M572.1 758.8V908M568.5 758.8H575.7M568.5 908H575.7" fill="none" stroke="#646464" stroke-opacity="0.83" stroke-width="1.7"/>
<path d="M616.5 774.2V894.8M612.9 774.2H620.1M612.9 894.8H620.1" fill="none" stroke="#646464" stroke-opacity="0.83" stroke-width="1.7"/>
<path d="M660.9 767.7V920.9M657.3 767.7H664.5M657.3 920.9H664.5" fill="none" stroke="#646464" stroke-opacity="0.83" stroke-width="1.7"/>
<path d="M705.1 803.2V923.8M701.5 803.2H708.7M701.5 923.8H708.7" fill="none" stroke="#646464" stroke-opacity="0.83" stroke-width="1.7"/>
<path d="M574 742.7L574 737.3L704.5 737.3L704.5 742.7" fill="none" stroke="#444" stroke-width="1.6" stroke-linejoin="round"/>
<text x="637.88" y="732.7" font-size="12.6" text-anchor="middle" fill="#333">p=0.008</text>
<path d="M616.5 770.1L616.5 764.7L704.5 764.7L704.5 770.1" fill="none" stroke="#444" stroke-width="1.6" stroke-linejoin="round"/>
<text x="659.18" y="758.8" font-size="12.6" text-anchor="middle" fill="#333">p=0.013</text>
<path d="M549.8 715.8L727.8 715.8L727.8 938L549.8 938Z" fill="none" stroke="#3a3a3a" stroke-width="1.2"/>
<line x1="544.4" y1="938" x2="549.8" y2="938" stroke="#3a3a3a" stroke-width="1.2"/>
<text x="533.2" y="944.05" font-size="19.0" text-anchor="end" fill="#111">0</text>
<line x1="544.4" y1="888.6" x2="549.8" y2="888.6" stroke="#3a3a3a" stroke-width="1.2"/>
<text x="533.2" y="894.65" font-size="19.0" text-anchor="end" fill="#111">10</text>
<line x1="544.4" y1="839.2" x2="549.8" y2="839.2" stroke="#3a3a3a" stroke-width="1.2"/>
<text x="533.2" y="845.25" font-size="19.0" text-anchor="end" fill="#111">20</text>
<line x1="544.4" y1="789.8" x2="549.8" y2="789.8" stroke="#3a3a3a" stroke-width="1.2"/>
<text x="533.2" y="795.85" font-size="19.0" text-anchor="end" fill="#111">30</text>
<line x1="544.4" y1="740.4" x2="549.8" y2="740.4" stroke="#3a3a3a" stroke-width="1.2"/>
<text x="533.2" y="746.45" font-size="19.0" text-anchor="end" fill="#111">40</text>
<text x="625.68" y="653.6" font-size="25.5" font-weight="bold" text-anchor="middle" fill="#000">LA conduit</text>
<text x="625.79" y="683.6" font-size="25.5" font-weight="bold" text-anchor="middle" fill="#000">strain (%)</text>
<rect x="540.45" y="38.8" width="36.9" height="27.7" fill="#fff" stroke="none" stroke-width="0"/>
<rect x="540.45" y="38.8" width="36.9" height="27.7" fill="none" stroke="#3a3a3a" stroke-width="1.2"/>
<text x="589.5" y="60.7" font-size="19" text-anchor="start" fill="#111">NORMAL</text>
<rect x="540.45" y="92.2" width="36.9" height="27.7" fill="#fff" stroke="none" stroke-width="0"/>
<path d="M544.7 92.95h1.4v1.4h-1.4zM554.45 92.95h1.4v1.4h-1.4zM564.2 92.95h1.4v1.4h-1.4zM573.95 92.95h1.4v1.4h-1.4zM549.57 97.83h1.4v1.4h-1.4zM559.32 97.83h1.4v1.4h-1.4zM569.07 97.83h1.4v1.4h-1.4zM544.7 102.7h1.4v1.4h-1.4zM554.45 102.7h1.4v1.4h-1.4zM564.2 102.7h1.4v1.4h-1.4zM573.95 102.7h1.4v1.4h-1.4zM549.57 107.58h1.4v1.4h-1.4zM559.32 107.58h1.4v1.4h-1.4zM569.07 107.58h1.4v1.4h-1.4zM544.7 112.45h1.4v1.4h-1.4zM554.45 112.45h1.4v1.4h-1.4zM564.2 112.45h1.4v1.4h-1.4zM573.95 112.45h1.4v1.4h-1.4zM549.57 117.33h1.4v1.4h-1.4zM559.32 117.33h1.4v1.4h-1.4zM569.07 117.33h1.4v1.4h-1.4z" fill="#333"/>
<rect x="540.45" y="92.2" width="36.9" height="27.7" fill="none" stroke="#3a3a3a" stroke-width="1.2"/>
<text x="589.5" y="113.6" font-size="19" text-anchor="start" fill="#111">T1DM-LOW</text>
<rect x="540.45" y="145.8" width="36.9" height="27.6" fill="#fff" stroke="none" stroke-width="0"/>
<path d="M542.9 133.8L491.3 185.4M552.6 133.8L501 185.4M562.3 133.8L510.7 185.4M572 133.8L520.4 185.4M581.7 133.8L530.1 185.4M591.4 133.8L539.8 185.4M601.1 133.8L549.5 185.4M610.8 133.8L559.2 185.4M620.5 133.8L568.9 185.4M630.2 133.8L578.6 185.4" stroke="#000" stroke-width="2.4" fill="none" clip-path="url(#c9)"/>
<rect x="540.45" y="145.8" width="36.9" height="27.6" fill="none" stroke="#3a3a3a" stroke-width="1.2"/>
<text x="589.5" y="167.2" font-size="19" text-anchor="start" fill="#111">T1DM-MED</text>
<rect x="540.45" y="199" width="36.9" height="28" fill="#000" stroke="none" stroke-width="0"/>
<rect x="540.45" y="199" width="36.9" height="28" fill="none" stroke="#3a3a3a" stroke-width="1.2"/>
<text x="589.5" y="220.6" font-size="19" text-anchor="start" fill="#111">T1DM-HIGH</text>
</svg>
</body></html>
